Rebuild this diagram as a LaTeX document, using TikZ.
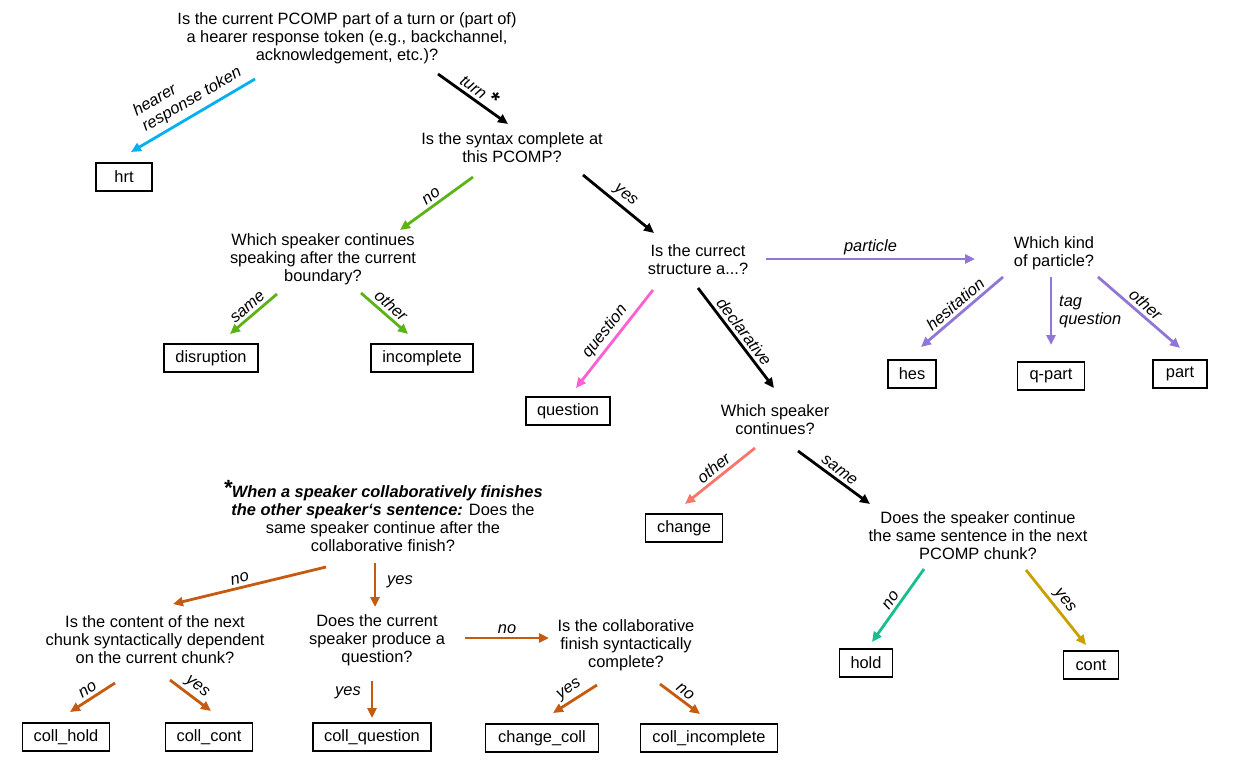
\documentclass[tikz,border=0pt]{standalone}
\usepackage{fontspec}
\setmainfont{Liberation Sans}
\usetikzlibrary{arrows.meta}
\definecolor{cblue}{HTML}{00B0F0}
\definecolor{cgreen}{HTML}{5CB318}
\definecolor{cpink}{HTML}{FF5FD2}
\definecolor{cpurple}{HTML}{9077D6}
\definecolor{csalmon}{HTML}{F7776C}
\definecolor{cteal}{HTML}{17BF8F}
\definecolor{cgold}{HTML}{C9A000}
\definecolor{corange}{HTML}{C55A11}
\newcommand{\bigast}{{\fontsize{22}{22}\selectfont *}}
\begin{document}
\begin{tikzpicture}[x=1pt,y=-1pt,
  q/.style={align=center,font=\fontsize{16.4}{18}\selectfont,inner sep=0pt},
  leaf/.style={draw,line width=1.5pt,font=\fontsize{16.4}{18}\selectfont,minimum height=28pt,inner xsep=4pt,inner ysep=0pt,minimum width=#1},
  arr/.style={line width=2.8pt,-{Triangle[length=10pt,width=9pt]}},
  lab/.style={font=\fontsize{16.4}{18}\selectfont\itshape,sloped,above,inner sep=3pt},
  labf/.style={font=\fontsize{16.4}{18}\selectfont\itshape,inner sep=0pt}
]
\useasboundingbox (0,0) rectangle (1233,781);

% question nodes
\node[q] (q1) at (347,38) {Is the current PCOMP part of a turn or (part of)\\a hearer response token (e.g., backchannel,\\acknowledgement, etc.)?};
\node[q] (q2) at (512,148) {Is the syntax complete at\\this PCOMP?};
\node[q] (q3) at (323,259) {Which speaker continues\\speaking after the current\\boundary?};
\node[q] (q4) at (698,260) {Is the currect\\structure a...?};
\node[q] (q5) at (1054,253) {Which kind\\of particle?};
\node[q] (q6) at (775,420) {Which speaker\\continues?};
\node[q] (q7) at (978,536) {Does the speaker continue\\the same sentence in the next\\PCOMP chunk?};
\node[q] (note) at (383,516) {\textbf{\textit{\raisebox{2pt}{\bigast}When a speaker collaboratively finishes}}\\\textbf{\textit{the other speaker‘s sentence:}} Does the\\same speaker continue after the\\collaborative finish?};
\node[q] (q8) at (155,640) {Is the content of the next\\chunk syntactically dependent\\on the current chunk?};
\node[q] (q9) at (377,640) {Does the current\\speaker produce a\\question?};
\node[q] (q10) at (626,645) {Is the collaborative\\finish syntactically\\complete?};

% leaves
\node[leaf=56pt] (hrt) at (124,177) {hrt};
\node[leaf=94pt] (disruption) at (211,358) {disruption};
\node[leaf=102pt] (incomplete) at (422,358) {incomplete};
\node[leaf=84pt] (question) at (568,411) {question};
\node[leaf=48pt] (hes) at (912,374) {hes};
\node[leaf=67pt] (qpart) at (1051,376) {q-part};
\node[leaf=54pt] (part) at (1180,374) {part};
\node[leaf=77pt] (change) at (684,528) {change};
\node[leaf=53pt] (hold) at (866,663) {hold};
\node[leaf=55pt] (cont) at (1091,665) {cont};
\node[leaf=87pt] (collhold) at (66,737) {coll\_hold};
\node[leaf=87pt] (collcont) at (209,737) {coll\_cont};
\node[leaf=118pt] (collq) at (372,737) {coll\_question};
\node[leaf=113pt] (changecoll) at (542,738) {change\_coll};
\node[leaf=137pt] (collinc) at (709,738) {coll\_incomplete};

% arrow end points
\coordinate (a1s) at (255,79);  \coordinate (a1e) at (131,152);
\coordinate (a2s) at (438,74);  \coordinate (a2e) at (508,124);
\coordinate (a3s) at (473,177); \coordinate (a3e) at (400,230);
\coordinate (a4s) at (583,175); \coordinate (a4e) at (654,233);
\coordinate (a5s) at (277,294); \coordinate (a5e) at (230,334);
\coordinate (a6s) at (361,293); \coordinate (a6e) at (408,334);
\coordinate (a7s) at (653,290); \coordinate (a7e) at (576,388);
\coordinate (a8s) at (698,288); \coordinate (a8e) at (774,388);
\coordinate (a9s) at (766,259); \coordinate (a9e) at (975,259);
\coordinate (a10s) at (1003,277); \coordinate (a10e) at (921,347);
\coordinate (a11s) at (1051,277); \coordinate (a11e) at (1051,345);
\coordinate (a12s) at (1098,277); \coordinate (a12e) at (1180,348);
\coordinate (a13s) at (755,448); \coordinate (a13e) at (685,504);
\coordinate (a14s) at (798,451); \coordinate (a14e) at (870,504);
\coordinate (a15s) at (924,569); \coordinate (a15e) at (872,642);
\coordinate (a16s) at (1026,570); \coordinate (a16e) at (1086,645);
\coordinate (a17s) at (326,567); \coordinate (a17e) at (173,604);
\coordinate (a18s) at (375,563); \coordinate (a18e) at (375,607);
\coordinate (a19s) at (115,683); \coordinate (a19e) at (70,712);
\coordinate (a20s) at (170,680); \coordinate (a20e) at (211,711);
\coordinate (a21s) at (372,681); \coordinate (a21e) at (372,718);
\coordinate (a22s) at (465,638); \coordinate (a22e) at (549,638);
\coordinate (a23s) at (597,685); \coordinate (a23e) at (553,713);
\coordinate (a24s) at (660,684); \coordinate (a24e) at (700,714);

% arrows
\draw[arr,cblue] (a1s) -- node[lab,text=black,align=left,pos=0.45,yshift=2pt] {hearer\\response token} (a1e);
\draw[arr,black] (a2s) -- node[lab,pos=0.5] {turn \textbf{\bigast}} (a2e);
\draw[arr,cgreen] (a3s) -- node[lab,text=black] {no} (a3e);
\draw[arr,black] (a4s) -- node[lab] {yes} (a4e);
\draw[arr,cgreen] (a5s) -- node[lab,text=black] {same} (a5e);
\draw[arr,cgreen] (a6s) -- node[lab,text=black] {other} (a6e);
\draw[arr,cpink] (a7s) -- node[lab,text=black] {question} (a7e);
\draw[arr,black] (a8s) -- node[lab] {declarative} (a8e);
\draw[arr,cpurple] (a9s) -- node[lab,text=black] {particle} (a9e);
\draw[arr,cpurple] (a10s) -- node[lab,text=black] {hesitation} (a10e);
\draw[arr,cpurple] (a11s) -- (a11e);
\node[labf,align=left,anchor=west] (tagq) at (1059,312) {tag\\question};
\draw[arr,cpurple] (a12s) -- node[lab,text=black] {other} (a12e);
\draw[arr,csalmon] (a13s) -- node[lab,text=black] {other} (a13e);
\draw[arr,black] (a14s) -- node[lab] {same} (a14e);
\draw[arr,cteal] (a15s) -- node[lab,text=black] {no} (a15e);
\draw[arr,cgold] (a16s) -- node[lab,text=black] {yes} (a16e);
\draw[arr,corange] (a17s) -- node[lab,text=black,pos=0.55] {no} (a17e);
\draw[arr,corange] (a18s) -- (a18e);
\node[labf] (l18) at (400,582) {yes};
\draw[arr,corange] (a19s) -- node[lab,text=black] {no} (a19e);
\draw[arr,corange] (a20s) -- node[lab,text=black] {yes} (a20e);
\draw[arr,corange] (a21s) -- (a21e);
\node[labf] (l21) at (348,693) {yes};
\draw[arr,corange] (a22s) -- node[lab,text=black] {no} (a22e);
\draw[arr,corange] (a23s) -- node[lab,text=black] {yes} (a23e);
\draw[arr,corange] (a24s) -- node[lab,text=black] {no} (a24e);
\end{tikzpicture}
\end{document}
